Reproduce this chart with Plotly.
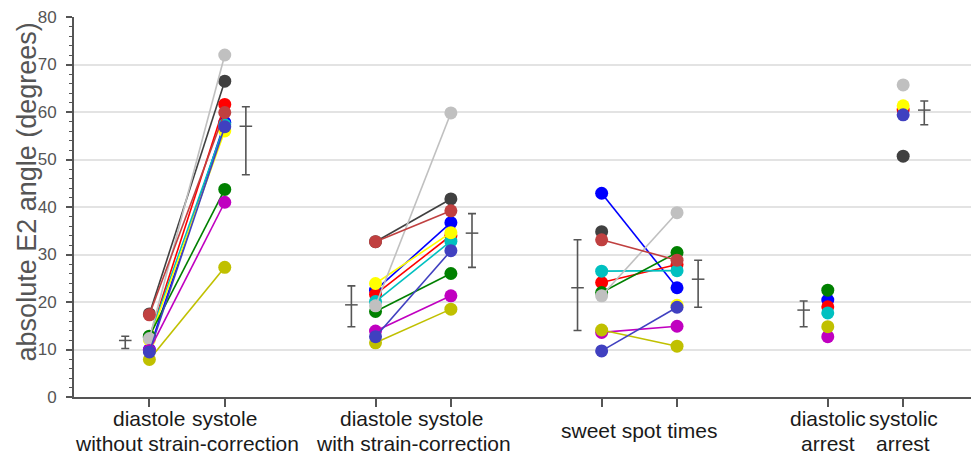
import plotly.graph_objects as go

# category positions and labels
cat_pos = [1, 2, 4, 5, 7, 8, 10, 11]
top_labels = ["diastole", "systole", "diastole", "systole", "diastolic", "systolic"]
top_label_pos = [1, 2, 4, 5, 10, 11]
group_labels = ["without strain-correction", "with strain-correction", "arrest", "arrest"]
group_label_pos = [1.5, 4.5, 10, 11]
mid_label = "sweet spot times"
mid_label_pos = 7.5

# subject values: [wo_dia, wo_sys, w_dia, w_sys, ss_1, ss_2, arrest_dia, arrest_sys]
subj_darkgray = [17.5, 66.5, 32.7, 41.7, 34.8, None, None, 50.7]
subj_blue     = [10.0, 57.8, 22.5, 36.7, 42.9, 23.0, 20.4, None]
subj_red      = [12.5, 61.6, 21.6, 34.0, 24.1, 27.9, 19.0, 60.4]
subj_cyan     = [12.6, 57.3, 20.1, 32.8, 26.5, 26.6, 17.7, None]
subj_yellow   = [12.0, 56.0, 23.9, 34.6, None, 19.3, None, 61.3]
subj_green    = [12.8, 43.7, 18.0, 26.0, 22.0, 30.4, 22.5, None]
subj_gray     = [12.3, 72.0, 19.2, 59.8, 21.3, 38.8, None, 65.7]
subj_brown    = [17.3, 59.9, 32.7, 39.2, 33.1, 28.8, None, None]
subj_magenta  = [9.8, 41.0, 13.9, 21.3, 13.6, 14.9, 12.7, None]
subj_olive    = [7.9, 27.3, 11.4, 18.5, 14.1, 10.7, 14.8, None]
subj_slate    = [9.5, 56.9, 12.7, 30.8, 9.7, 18.9, None, 59.4]

subjects = [subj_darkgray, subj_blue, subj_red, subj_cyan, subj_yellow, subj_green,
            subj_gray, subj_brown, subj_magenta, subj_olive, subj_slate]
colors = ["#404040", "#0000ff", "#ff0000", "#00c0c0", "#ffff00", "#008000",
          "#c0c0c0", "#c04040", "#c000c0", "#c0c000", "#4040c0"]

# summary error bars (per category): mean, upper, lower
err_mean  = [11.9, 57.0, 19.4, 34.5, 23.0, 24.8, 18.3, 60.4]
err_upper = [12.8, 61.1, 23.4, 38.6, 33.1, 28.8, 20.2, 62.3]
err_lower = [10.2, 46.8, 14.8, 27.3, 14.0, 18.9, 14.8, 57.3]

fig = go.Figure()

def build_xy(vals):
    xs, ys = [], []
    pairs = [(0, 1), (2, 3), (4, 5)]
    for a, b in pairs:
        xs += [cat_pos[a], cat_pos[b], None]
        ys += [vals[a], vals[b], None]
    xs += [cat_pos[6], None, cat_pos[7]]
    ys += [vals[6], None, vals[7]]
    return xs, ys

for vals, col in zip(subjects, colors):
    xs, ys = build_xy(vals)
    fig.add_trace(go.Scatter(
        x=xs, y=ys, mode="lines+markers", connectgaps=False,
        line=dict(color=col, width=1.6),
        marker=dict(color=col, size=13, line=dict(width=0)),
        showlegend=False, hoverinfo="skip"))

# error bars offset from category positions
offsets = [-0.32, 0.28]
err_x = [p + offsets[i % 2] for i, p in enumerate(cat_pos)]
fig.add_trace(go.Scatter(
    x=err_x, y=err_mean, mode="markers",
    marker=dict(symbol="line-ew", size=9, color="#555555",
                line=dict(color="#555555", width=1.5)),
    error_y=dict(type="data", symmetric=False,
                 array=[u - m for u, m in zip(err_upper, err_mean)],
                 arrayminus=[m - l for m, l in zip(err_mean, err_lower)],
                 color="#555555", thickness=1.6, width=4),
    showlegend=False, hoverinfo="skip"))

font_fam = "Liberation Sans, Arial, sans-serif"
lab_font = dict(size=21, color="#1a1a1a", family=font_fam)
annots = []
for t, x in zip(top_labels, top_label_pos):
    annots.append(dict(text=t, x=x, xref="x", y=-0.0553, yref="paper",
                       xanchor="center", yanchor="middle", showarrow=False,
                       font=lab_font))
for t, x in zip(group_labels, group_label_pos):
    annots.append(dict(text=t, x=x, xref="x", y=-0.123, yref="paper",
                       xanchor="center", yanchor="middle", showarrow=False,
                       font=lab_font))
annots.append(dict(text=mid_label, x=mid_label_pos, xref="x", y=-0.089, yref="paper",
                   xanchor="center", yanchor="middle", showarrow=False,
                   font=lab_font))
annots.append(dict(text="absolute E2 angle (degrees)", x=-0.0524, xref="paper",
                   y=0.541, yref="paper", textangle=-90, xanchor="center",
                   yanchor="middle", showarrow=False,
                   font=dict(size=27, color="#555555", family=font_fam)))

fig.update_layout(
    width=971, height=463,
    margin=dict(l=74, r=0, t=17, b=66),
    plot_bgcolor="white", paper_bgcolor="white",
    annotations=annots,
    xaxis=dict(range=[0, 11.9], tickvals=cat_pos, showticklabels=False,
               ticks="outside", ticklen=8, tickwidth=1.5, tickcolor="#555555",
               showgrid=False, zeroline=False, showline=True,
               linecolor="#555555", linewidth=2),
    yaxis=dict(range=[0, 80], dtick=10, ticks="outside", ticklen=6,
               tickwidth=1.5, tickcolor="#555555",
               minor=dict(dtick=2, ticks="outside", ticklen=3,
                          tickcolor="#555555", tickwidth=1, showgrid=False),
               showgrid=True, gridcolor="#e3e3e3", gridwidth=1.5,
               zeroline=False, showline=True, linecolor="#555555", linewidth=2,
               tickfont=dict(size=17, color="#555555", family=font_fam),
               ticklabelstandoff=6),
)

fig.write_html("out.html", config={"displayModeBar": False},
               post_script="document.body.style.margin='0';document.body.style.overflow='hidden';")
